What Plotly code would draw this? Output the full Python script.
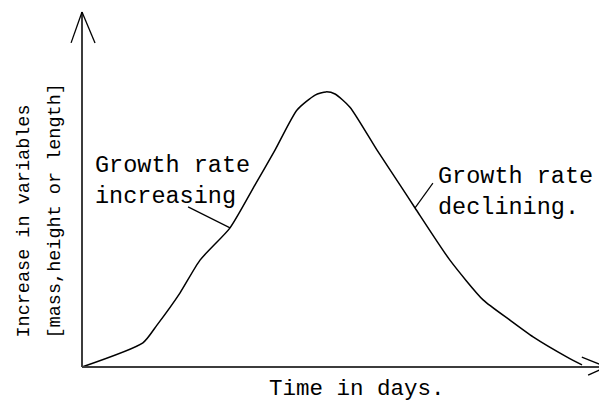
import plotly.graph_objects as go

# Data (time in arbitrary days, increase in arbitrary units)
days = [0, 2.9, 3.57, 4.67, 5.62, 7.05, 8.24, 9.19, 10.24, 11.1, 11.62, 12.05,
        12.76, 14.05, 15.14, 15.86, 17.52, 19.1, 20.38, 21.48, 23.1, 23.81]
growth = [0, 6.8, 11.8, 20.9, 30.1, 39.2, 51.3, 61.1, 72.4, 76.6, 77.5, 76.9,
          73.2, 61.1, 51.3, 44.8, 30.1, 18.9, 13.2, 8.5, 2.8, 0.6]

x_label = "Time in days."
y_label_lines = ["Increase in variables", "[mass,height or length]"]
note_increasing = "Growth rate<br>increasing"
note_declining = "Growth rate<br>declining."

X_MAX = 24.9   # end of the time axis (arrow tip)
Y_MAX = 100    # end of the variable axis (arrow tip)

FONT = "Liberation Mono, Courier New, monospace"
AXIS_COLOR = "#3c3c3c"

fig = go.Figure()
fig.add_trace(go.Scatter(
    x=days, y=growth, mode="lines",
    line=dict(color="black", width=1.5, shape="spline", smoothing=0.6),
    hoverinfo="skip", showlegend=False,
))

shapes = []
# axes
shapes.append(dict(type="line", xref="x", yref="y", x0=0, y0=0, x1=X_MAX, y1=0,
                   line=dict(color=AXIS_COLOR, width=2)))
shapes.append(dict(type="line", xref="x", yref="y", x0=0, y0=0, x1=0, y1=Y_MAX,
                   line=dict(color=AXIS_COLOR, width=2)))
# open arrowheads
barb = dict(color="black", width=1.3)
shapes += [
    dict(type="line", xref="x", yref="y", x0=0, y0=Y_MAX, x1=-0.52, y1=Y_MAX - 8.7, line=barb),
    dict(type="line", xref="x", yref="y", x0=0, y0=Y_MAX, x1=0.62, y1=Y_MAX - 8.7, line=barb),
    dict(type="line", xref="x", yref="y", x0=X_MAX, y0=0.2, x1=X_MAX - 1.1, y1=2.8, line=barb),
    dict(type="line", xref="x", yref="y", x0=X_MAX, y0=-0.2, x1=X_MAX - 0.8, y1=-2.3, line=barb),
]
# callout pointers from the notes to the curve
pointer = dict(color="black", width=1.2)
shapes.append(dict(type="line", xref="x", yref="y", x0=5.05, y0=45.1,
                   x1=days[5], y1=growth[5], line=pointer))
shapes.append(dict(type="line", xref="x", yref="y", x0=16.71, y0=51.8,
                   x1=days[15], y1=growth[15], line=pointer))

annotations = [
    dict(text=note_increasing, x=0.5, y=52.5, xref="x", yref="y",
         xanchor="left", yanchor="middle", align="left", showarrow=False,
         font=dict(family=FONT, size=23.5, color="black")),
    dict(text=note_declining, x=16.85, y=49.4, xref="x", yref="y",
         xanchor="left", yanchor="middle", align="left", showarrow=False,
         font=dict(family=FONT, size=23.5, color="black")),
    dict(text=x_label, x=13.1, y=-6.3, xref="x", yref="y",
         xanchor="center", yanchor="middle", showarrow=False,
         font=dict(family=FONT, size=22.5, color="black")),
    dict(text=y_label_lines[0], x=-2.76, y=7.6, xref="x", yref="y",
         xanchor="center", yanchor="bottom", showarrow=False, textangle=-90,
         font=dict(family=FONT, size=18.5, color="black")),
    dict(text=y_label_lines[1], x=-1.24, y=7.6, xref="x", yref="y",
         xanchor="center", yanchor="bottom", showarrow=False, textangle=-90,
         font=dict(family=FONT, size=18.5, color="black")),
]

# The page body adds an 8px margin, so the figure is 8px smaller and
# the axis ranges are set so that the drawing lands where the reference has it.
fig.update_layout(
    width=599, height=395, autosize=False,
    margin=dict(l=0, r=0, t=0, b=0, pad=0),
    paper_bgcolor="white", plot_bgcolor="white",
    xaxis=dict(range=[-3.524, 25.0], visible=False, fixedrange=True),
    yaxis=dict(range=[-10.14, 101.13], visible=False, fixedrange=True),
    shapes=shapes, annotations=annotations,
    showlegend=False,
)

fig.write_html("out.html")
